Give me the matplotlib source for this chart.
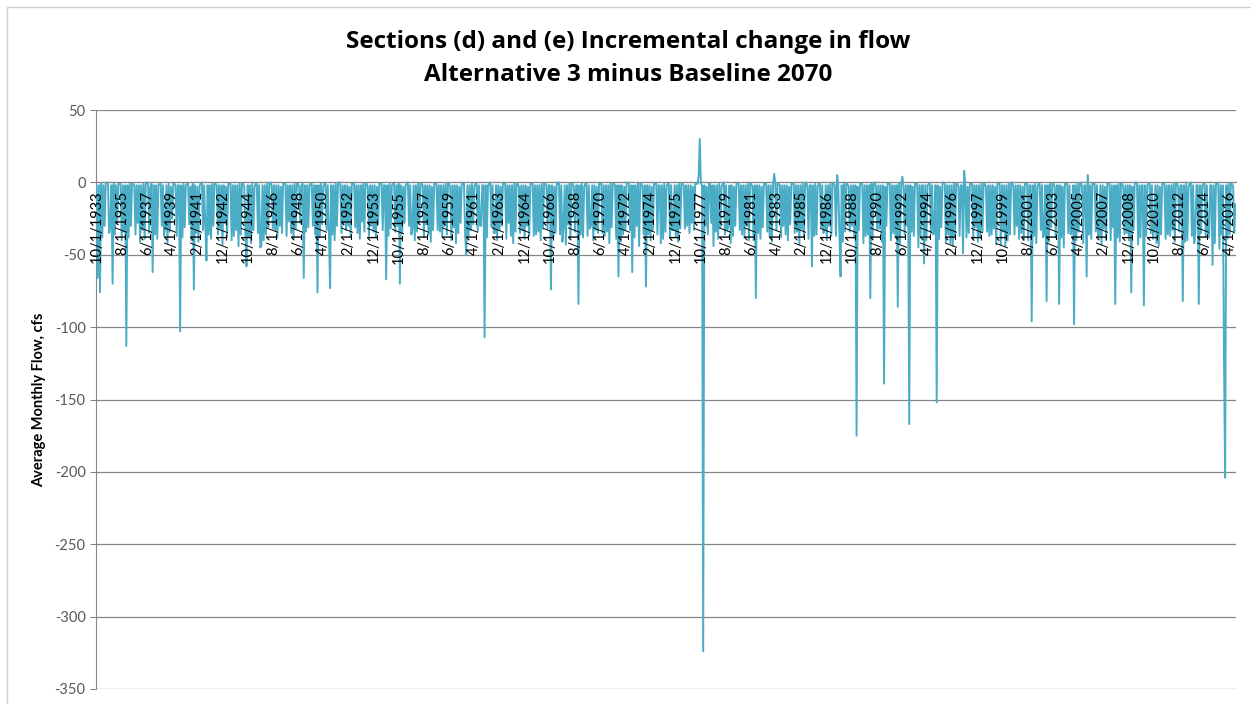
import numpy as np
import pandas as pd
import matplotlib
matplotlib.use('Agg')
import matplotlib.pyplot as plt
from matplotlib.patches import Rectangle

plt.rcParams['axes.unicode_minus'] = False

# meses del periodo (oct 1933 - sep 2016)
meses = pd.date_range('1933-10-01', '2016-09-01', freq='MS')
etiquetas = [f'{d.month}/{d.day}/{d.year}' for d in meses]

# cambio de caudal por ano hidrologico (oct..sep), cfs
cambio_caudal = [
    [-2, -66, -2, -76, -1, -38, -2, -30, -1, 0, -1, -35],
    [-30, -2, -70, -1, -36, -2, -28, -1, -1, -1, -40, -2],
    [-34, -2, -113, -2, -38, -1, -30, -1, -1, -2, -36, -2],
    [-28, -2, -41, -2, -33, -1, -39, -1, 0, -1, -35, -3],
    [-1, -62, -2, -36, -2, -39, -2, -1, -1, -30, -2, -37],
    [-31, -2, -42, -1, -34, -3, -25, -1, -1, -2, -37, -2],
    [-2, -103, -2, -38, -1, -31, -2, -1, -1, -29, -3, -40],
    [-1, -74, -2, -35, -3, -41, -2, -1, 0, -33, -2, -30],
    [-54, -2, -36, -2, -39, -1, -30, -1, -1, -2, -36, -2],
    [-32, -2, -43, -2, -28, -3, -38, -1, -1, -1, -40, -2],
    [-37, -2, -33, -2, -44, -1, -36, -1, -1, -3, -34, -58],
    [-2, -38, -2, -42, -1, -33, -3, -1, -1, -35, -2, -45],
    [-44, -2, -40, -2, -36, -1, -31, -1, 0, -2, -32, -2],
    [-33, -2, -38, -2, -30, -3, -35, -1, -1, -1, -37, -2],
    [-27, -2, -35, -2, -39, -1, -32, -1, -1, -3, -28, -2],
    [-1, -66, -2, -34, -2, -31, -2, -1, -1, -30, -2, -36],
    [-2, -76, -2, -38, -1, -29, -3, -1, -1, -33, -2, -35],
    [-73, -2, -36, -2, -40, -1, -30, -1, 0, -2, -35, -2],
    [-28, -2, -33, -2, -30, -3, -37, -1, -1, -1, -31, -2],
    [-35, -2, -39, -2, -27, -1, -34, -1, -1, -3, -37, -2],
    [-30, -2, -34, -2, -38, -3, -29, -1, -1, -1, -33, -2],
    [-2, -67, -2, -37, -1, -32, -2, -1, -1, -34, -2, -30],
    [-1, -70, -2, -35, -3, -28, -2, -1, 0, -30, -2, -36],
    [-32, -2, -40, -2, -34, -1, -27, -1, -1, -2, -38, -2],
    [-29, -2, -36, -2, -41, -3, -33, -1, -1, -1, -33, -2],
    [-34, -2, -38, -2, -30, -1, -36, -1, -1, -3, -40, -2],
    [-31, -2, -42, -2, -35, -3, -28, -1, -1, -1, -36, -50],
    [-2, -37, -2, -33, -1, -29, -3, -1, -1, -34, -2, -30],
    [-30, -2, -2, -107, -2, -38, -2, -1, 0, -31, -2, -35],
    [-35, -2, -40, -2, -33, -3, -30, -1, -1, -1, -39, -2],
    [-28, -2, -37, -2, -42, -1, -34, -1, -1, -3, -35, -2],
    [-33, -2, -39, -2, -30, -3, -37, -1, -1, -1, -37, -2],
    [-36, -2, -34, -2, -40, -1, -32, -1, -1, -2, -32, -2],
    [-2, -74, -2, -38, -3, -35, -1, -1, 0, -36, -2, -41],
    [-31, -2, -43, -2, -29, -1, -38, -1, -1, -3, -34, -2],
    [-2, -84, -2, -36, -1, -38, -3, -1, -1, -37, -2, -32],
    [-30, -2, -40, -2, -33, -3, -35, -1, -1, -1, -35, -2],
    [-37, -2, -34, -2, -42, -1, -31, -1, -1, -2, -39, -2],
    [-65, -2, -41, -2, -36, -3, -33, -1, 0, -1, -33, -2],
    [-62, -2, -38, -2, -30, -1, -44, -1, -1, -3, -36, -2],
    [-72, -2, -36, -2, -40, -3, -33, -1, -1, -1, -36, -2],
    [-2, -42, -2, -39, -1, -34, -3, -1, -1, -38, -2, -33],
    [-33, -2, -37, -2, -41, -1, -32, -1, -1, -2, -32, -2],
    [-30, -2, -35, -2, -28, -3, -33, -1, -1, -1, 4, 30],
    [-1, -2, -324, -2, -30, -3, -36, -1, -1, -28, -2, -44],
    [-2, -34, -2, -39, -1, -31, -3, -1, 0, -36, -2, -33],
    [-29, -2, -42, -2, -37, -3, -30, -1, -1, -1, -33, -2],
    [-36, -2, -38, -2, -30, -1, -40, -1, -1, -3, -40, -2],
    [-80, -2, -35, -2, -39, -3, -31, -1, -1, -1, -34, -2],
    [-37, -2, -41, -2, 6, -1, -33, -1, -1, -2, -38, -2],
    [-30, -2, -36, -2, -40, -3, -29, -1, -1, -1, -35, -2],
    [-34, -2, -43, -2, -32, -1, -38, -1, 0, -3, -39, -2],
    [-2, -58, -2, -37, -1, -36, -3, -1, -1, -31, -2, -35],
    [-33, -2, -40, -2, -30, -1, -37, -1, -1, -2, -37, 5],
    [-2, -36, -65, -2, -41, -1, -34, -1, -1, -3, -34, -2],
    [-30, -2, -38, -2, -175, -3, -33, -1, -1, -1, -42, -2],
    [-37, -2, -36, -2, -80, -1, -39, -1, 0, -3, -33, -2],
    [-32, -2, -41, -2, -139, -3, -30, -1, -1, -1, -40, -2],
    [-35, -2, -38, -2, -86, -1, -42, -1, 4, -3, -36, -2],
    [-30, -2, -167, -2, -34, -3, -37, -1, -1, -1, -45, -2],
    [-38, -2, -2, -56, -2, -40, -2, -1, -1, -35, -2, -36],
    [-33, -2, -152, -2, -39, -3, -31, -1, 0, -1, -41, -2],
    [-36, -2, -42, -2, -44, -1, -37, -1, -1, -3, -37, -2],
    [-2, -49, 8, -2, -38, -3, -35, -1, -1, -1, -39, -2],
    [-31, -2, -41, -2, -38, -1, -34, -1, -1, -3, -34, -2],
    [-37, -2, -36, -2, -32, -3, -43, -1, -1, -1, -43, -2],
    [-34, -2, -44, -2, -40, -1, -36, -1, 0, -3, -36, -2],
    [-30, -2, -39, -2, -35, -3, -40, -1, -1, -1, -40, -2],
    [-2, -96, -2, -37, -1, -42, -3, -1, -1, -33, -2, -38],
    [-36, -2, -82, -2, -41, -1, -31, -1, -1, -3, -38, -2],
    [-2, -84, -2, -38, -3, -45, -1, -1, -1, -35, -2, -36],
    [-33, -2, -98, -2, -40, -1, -34, -1, 0, -3, -42, -2],
    [-2, -65, 5, -36, -2, -39, -1, -1, -1, -34, -2, -37],
    [-37, -2, -43, -2, -32, -3, -40, -1, -1, -1, -40, -2],
    [-31, -2, -84, -2, -38, -1, -41, -1, -1, -3, -36, -2],
    [-35, -2, -40, -2, -76, -3, -33, -1, 0, -1, -43, -2],
    [-38, -2, -2, -85, -2, -37, -2, -1, -1, -35, -2, -39],
    [-32, -2, -42, -2, -44, -3, -36, -1, -1, -1, -39, -2],
    [-36, -2, -37, -2, -33, -1, -41, -1, -1, -3, -34, -2],
    [-2, -82, -2, -41, -1, -40, -3, -1, 0, -37, -2, -42],
    [-34, -2, -2, -84, -2, -35, -2, -1, -1, -37, -2, -38],
    [-38, -2, -2, -57, -2, -42, -1, -1, -1, -46, -2, -36],
    [-2, -120, -204, -2, -39, -1, -36, -1, -1, -3, -35, -15],
]
valores = np.array(cambio_caudal).ravel()

titulo1 = 'Sections (d) and (e) Incremental change in flow'
titulo2 = 'Alternative 3 minus Baseline 2070'
ylabel = 'Average Monthly Flow, cfs'

gris = '#868686'
fig = plt.figure(figsize=(12.51, 7.04), dpi=100)
ax = fig.add_axes([96 / 1251, 1 - 689 / 704, 1140 / 1251, 579 / 704])

# serie mensual
x = np.arange(len(valores))
ax.plot(x, valores, color='#4BACC6', lw=1.4, zorder=3)

ax.set_xlim(-0.5, len(valores) - 0.5)
ax.set_ylim(-350, 50)
ax.set_yticks(np.arange(-350, 51, 50))
ax.grid(axis='y', color=gris, lw=0.9, zorder=0)

# eje x cruzando en 0 con etiquetas cada 22 meses
ax.spines['bottom'].set_position(('data', 0))
ax.spines['bottom'].set_color(gris)
ax.spines['top'].set_visible(False)
ax.spines['right'].set_visible(False)
ax.spines['left'].set_color(gris)
ax.set_xticks(x[::22])
ax.set_xticklabels(etiquetas[::22], rotation=90, fontsize=10.5, family='Lato', color='black')
ax.tick_params(axis='x', length=0, pad=6)
ax.tick_params(axis='y', length=4, color=gris, labelsize=10.5, labelcolor='#595959')
for t in ax.get_yticklabels():
    t.set_family('Lato')
# etiquetas del eje x por encima de la serie
ax.xaxis.set_zorder(4)

ax.set_ylabel(ylabel, fontsize=10.5, fontweight='bold', family='Lato', labelpad=6)
fig.text(628 / 1251, 1 - 42 / 704, titulo1, ha='center', va='center', fontsize=17.5,
         fontweight='bold', family='Open Sans')
fig.text(628 / 1251, 1 - 75 / 704, titulo2, ha='center', va='center', fontsize=17.5,
         fontweight='bold', family='Open Sans')

# borde del area del grafico
fig.patches.append(Rectangle((7 / 1251, -0.1), 1.2, 1 - 7 / 704 + 0.1, transform=fig.transFigure,
                             fill=False, edgecolor='#d0d0d0', lw=1))

fig.savefig('out.png', dpi=100)
